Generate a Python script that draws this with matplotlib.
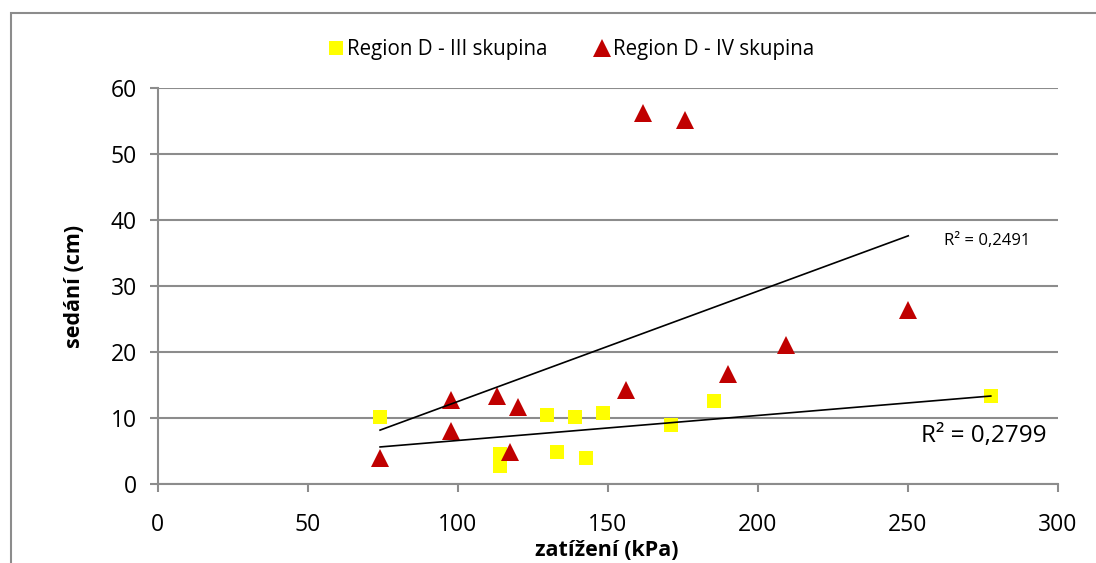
import numpy as np
import matplotlib
matplotlib.use("Agg")
import matplotlib.pyplot as plt
from matplotlib.patches import Rectangle

# Region D - III skupina (yellow squares)
load_iii = [74.1, 114.1, 114.1, 129.6, 133.1, 138.9, 142.6, 148.3, 171.1, 185.3, 277.6]
settle_iii = [10.2, 4.6, 2.8, 10.4, 4.8, 10.15, 3.9, 10.8, 8.9, 12.65, 13.4]

# Region D - IV skupina (red triangles)
load_iv = [74.1, 97.6, 97.6, 113.1, 117.3, 120.1, 156.1, 161.6, 175.8, 190.1, 209.3, 250.1]
settle_iv = [3.9, 12.7, 8.1, 13.3, 4.8, 11.6, 14.2, 56.2, 55.2, 16.7, 21.1, 26.3]

r2_iii = "R² = 0,2799"
r2_iv = "R² = 0,2491"

FONT = "Open Sans"
GRID = "#8c8c8c"

W, H = 1096, 563
fig = plt.figure(figsize=(W / 100, H / 100), dpi=100)
fig.patches.append(Rectangle((11 / W, -0.1), 1.2, 1 - 13 / H + 0.1,
                             transform=fig.transFigure, fill=False,
                             edgecolor="#8c8c8c", linewidth=1.5))

ax = fig.add_axes([157.7 / W, 79 / H, (1058 - 157.7) / W, 396 / H])

ax.plot(load_iii, settle_iii, "s", color="#ffff00", markersize=10.5,
        markeredgewidth=0, label="Region D - III skupina", zorder=3)
ax.plot(load_iv, settle_iv, "^", color="#c00000", markersize=13,
        markeredgewidth=0, label="Region D - IV skupina", zorder=3)

# linear trendlines
for xs, ys in [(load_iii, settle_iii), (load_iv, settle_iv)]:
    xs = np.asarray(xs)
    k, q = np.polyfit(xs, ys, 1)
    xl = np.array([xs.min(), xs.max()])
    ax.plot(xl, k * xl + q, color="black", linewidth=1.2, zorder=4)

ax.set_xlim(0, 300)
ax.set_ylim(0, 60)
ax.set_xticks(np.arange(0, 301, 50))
ax.set_yticks(np.arange(0, 61, 10))
ax.yaxis.grid(True, color=GRID, linewidth=1.5)
ax.set_axisbelow(True)
for s in ["top", "right"]:
    ax.spines[s].set_visible(False)
for s in ["left", "bottom"]:
    ax.spines[s].set_color(GRID)
    ax.spines[s].set_linewidth(1.5)
ax.tick_params(axis="both", direction="out", length=6, width=1.5, color=GRID,
               labelsize=16.5)
ax.tick_params(axis="x", pad=15)
ax.tick_params(axis="y", pad=9)
for lab in ax.get_xticklabels() + ax.get_yticklabels():
    lab.set_fontfamily(FONT)

ax.set_xlabel("zatížení (kPa)", fontsize=15.5, fontweight="bold", family=FONT)
ax.set_ylabel("sedání (cm)", fontsize=15.5, fontweight="bold", family=FONT)
ax.xaxis.set_label_coords((607 - 157.7) / (1058 - 157.7), -(551 - 484) / 396)
ax.yaxis.set_label_coords(-(157.7 - 74) / (1058 - 157.7), 0.5)
ax.xaxis.label.set_va("center")
ax.yaxis.label.set_va("center")

fig.text(944 / W, 1 - 241 / H, r2_iv, fontsize=12, family=FONT,
         va="center", ha="left")
fig.text(921 / W, 1 - 436 / H, r2_iii, fontsize=17.5, family=FONT,
         va="center", ha="left")

fig.legend(loc="center", bbox_to_anchor=(572 / W, 1 - 50 / H), ncol=2,
           frameon=False, prop={"family": FONT, "size": 14.8},
           handlelength=0.6, handletextpad=0.2, columnspacing=2.4)

fig.savefig("out.png", dpi=100)
